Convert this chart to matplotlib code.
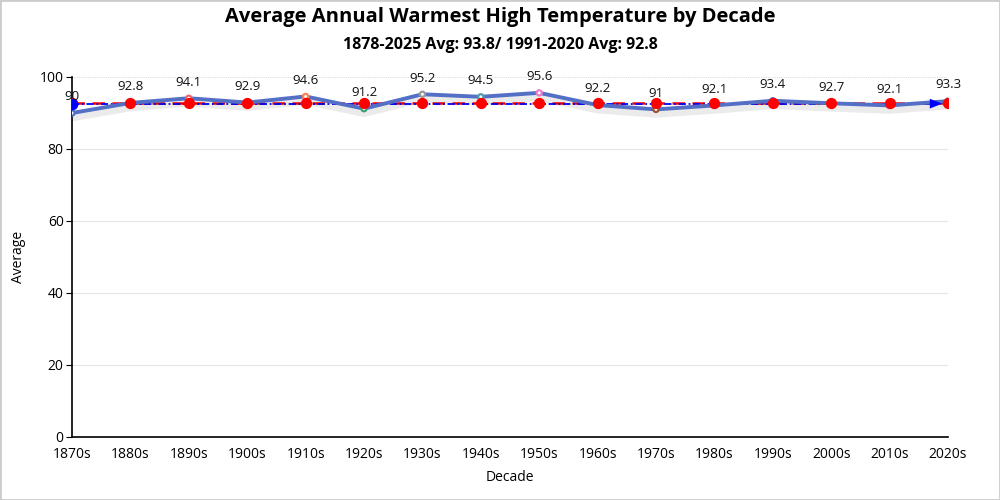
import numpy as np
import matplotlib.pyplot as plt
import matplotlib.patheffects as pe

decades = ["1870s", "1880s", "1890s", "1900s", "1910s", "1920s", "1930s", "1940s",
           "1950s", "1960s", "1970s", "1980s", "1990s", "2000s", "2010s", "2020s"]
avg_high = [90, 92.8, 94.1, 92.9, 94.6, 91.2, 95.2, 94.5,
            95.6, 92.2, 91, 92.1, 93.4, 92.7, 92.1, 93.3]
normal_1991_2020 = 92.8
mean_line = 92.6

point_colors = ["#5470c6", "#91cc75", "#ee6666", "#73c0de", "#fc8452", "#3ba272",
                "#999999", "#4a9fa8", "#ea7ccc", "#2f5e4e", "#a0522d", "#5470c6",
                "#5470c6", "#5470c6", "#5470c6", "#5470c6"]

plt.rcParams['font.family'] = ['Open Sans', 'DejaVu Sans']

fig = plt.figure(figsize=(10, 5), dpi=100)
ax = fig.add_axes([0.072, 0.126, 0.876, 0.72])
x = np.arange(len(decades))

# main series with soft shadow
shadow = [pe.SimpleLineShadow(offset=(0, -3), shadow_color="#000000", alpha=0.08, rho=1, linewidth=6),
          pe.Normal()]
ax.plot(x, avg_high, color="#5470c6", lw=2.8, zorder=4, path_effects=shadow)
ax.scatter(x, avg_high, s=14, facecolor="white", edgecolor=point_colors, linewidth=1.6, zorder=5)
for xi, v in zip(x, avg_high):
    ax.annotate(f"{v:g}", (xi, v), xytext=(0, 7), textcoords="offset points",
                ha="center", va="bottom", fontsize=9.5, color="#111111", zorder=7)

# 1991-2020 average series
ax.plot(x, [normal_1991_2020] * len(x), color="red", lw=1.8, ls=(0, (5, 3)), zorder=3)
ax.scatter(x, [normal_1991_2020] * len(x), s=50, color="red", zorder=6)

# average mark line
ax.plot([x[0], x[-1] - 0.15], [mean_line, mean_line], color="blue", lw=1.3,
        ls=(0, (4, 1.5, 1, 1.5)), zorder=3)
ax.scatter([x[0]], [mean_line], s=55, color="blue", zorder=6)
ax.annotate("", xy=(x[-1] - 0.05, mean_line), xytext=(x[-1] - 0.45, mean_line),
            arrowprops=dict(arrowstyle="-|>,head_length=0.9,head_width=0.35", color="blue", lw=0),
            zorder=6)

ax.set_xlim(0, len(x) - 1)
ax.set_ylim(0, 100)
ax.set_yticks([0, 20, 40, 60, 80, 100])
ax.set_xticks(x)
ax.set_xticklabels(decades)
ax.tick_params(axis="x", length=0, labelsize=10, pad=7)
ax.tick_params(axis="y", length=4, labelsize=10, pad=2)
for yv in [20, 40, 60, 80]:
    ax.axhline(yv, color="#e6e6e6", lw=0.8, zorder=0)
ax.axhline(100, color="#dddddd", lw=0.8, ls=(0, (1, 1)), zorder=0)
for s in ["top", "right"]:
    ax.spines[s].set_visible(False)
ax.spines["left"].set_linewidth(1.2)
ax.spines["bottom"].set_linewidth(1.2)

ax.set_xlabel("Decade", fontsize=10, labelpad=6)
ax.set_ylabel("Average", fontsize=10, labelpad=10)

fig.text(0.5, 0.966, "Average Annual Warmest High Temperature by Decade",
         ha="center", va="center", fontsize=14.5, fontweight="bold")
fig.text(0.5, 0.91, "1878-2025 Avg: 93.8/ 1991-2020 Avg: 92.8",
         ha="center", va="center", fontsize=11.5, fontweight="bold")

fig.patches.append(plt.Rectangle((0, 0), 1, 1, transform=fig.transFigure, fill=False,
                                 edgecolor="#cccccc", lw=2))

fig.savefig("out.png", dpi=100)
